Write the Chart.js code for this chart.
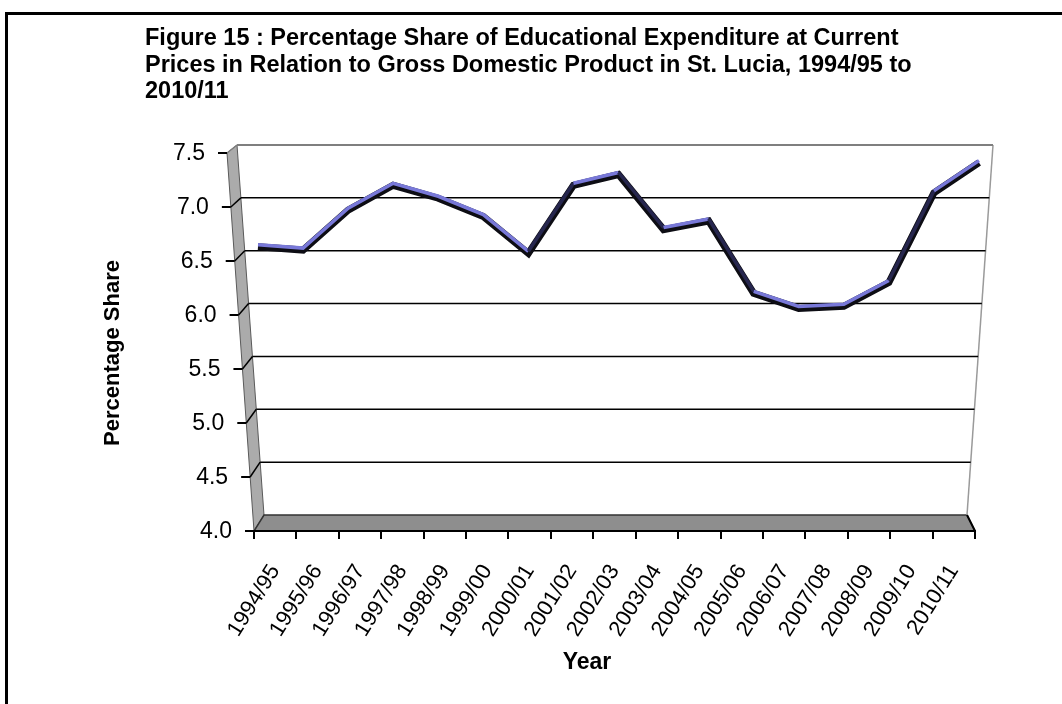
<!DOCTYPE html>
<html>
<head>
<meta charset="utf-8">
<title>Figure 15</title>
<script src="https://cdn.jsdelivr.net/npm/chart.js@4.4.1/dist/chart.umd.min.js"></script>
<style>
    html, body { margin: 0; padding: 0; background: #ffffff; }
    #wrap { position: relative; width: 1062px; height: 704px; }
</style>
</head>
<body>
<div id="wrap"><canvas id="chart" width="1062" height="704"></canvas></div>
<script>
// values
const years = ['1994/95', '1995/96', '1996/97', '1997/98', '1998/99', '1999/00', '2000/01', '2001/02',
    '2002/03', '2003/04', '2004/05', '2005/06', '2006/07', '2007/08', '2008/09', '2009/10', '2010/11'];
const shareOfGdp = [6.58, 6.55, 6.92, 7.15, 7.03, 6.86, 6.52, 7.15, 7.25, 6.74, 6.82, 6.15, 6.01, 6.03, 6.25, 7.08, 7.36];
const yTicks = [4.0, 4.5, 5.0, 5.5, 6.0, 6.5, 7.0, 7.5];
const titleLines = [
    'Figure 15 : Percentage Share of Educational Expenditure at Current',
    'Prices in Relation to Gross Domestic Product in St. Lucia, 1994/95 to',
    '2010/11'
];
const yTitle = 'Percentage Share';
const xTitle = 'Year';

const FONT = '"Liberation Sans", Arial, sans-serif';
Chart.defaults.font.family = FONT;
Chart.defaults.color = '#000000';

/**
 * Draws the Excel-like 3D box: left wall, floor, back wall grid, front y axis and the titles
 */
const box3d = {
    id: 'box3d',
    beforeDraw(chart) {
        const { ctx, chartArea: a } = chart;
        const y = chart.scales.y;
        const h = a.bottom - a.top;
        const t = py => (py - a.top) / h;
        const frontX = py => a.left - 27 + 27 * t(py);
        const backY = py => a.top - 8 + 370 * t(py);
        const backLeft = py => a.left - 17 + 27 * t(py);
        const backRight = py => a.right + 18 - 26 * t(py);

        ctx.save();
        ctx.fillStyle = '#ffffff';
        ctx.fillRect(0, 0, chart.width, chart.height);

        // outer frame
        ctx.strokeStyle = '#000000';
        ctx.lineWidth = 3;
        ctx.strokeRect(6.5, 13.5, chart.width + 20, chart.height + 20);

        // title
        ctx.fillStyle = '#000000';
        ctx.font = 'bold 23.5px ' + FONT;
        ctx.textAlign = 'left';
        ctx.textBaseline = 'middle';
        titleLines.forEach((line, i) => ctx.fillText(line, 145, 39 + i * 26.5));

        // left wall
        ctx.beginPath();
        ctx.moveTo(frontX(a.top), a.top);
        ctx.lineTo(backLeft(a.top), backY(a.top));
        ctx.lineTo(backLeft(a.bottom), backY(a.bottom));
        ctx.lineTo(frontX(a.bottom), a.bottom);
        ctx.closePath();
        ctx.fillStyle = '#ababab';
        ctx.fill();
        ctx.strokeStyle = '#5a5a5a';
        ctx.lineWidth = 1;
        ctx.stroke();

        // floor
        ctx.beginPath();
        ctx.moveTo(a.left, a.bottom);
        ctx.lineTo(a.right, a.bottom);
        ctx.lineTo(backRight(a.bottom), backY(a.bottom));
        ctx.lineTo(backLeft(a.bottom), backY(a.bottom));
        ctx.closePath();
        ctx.fillStyle = '#8e8e8e';
        ctx.fill();
        ctx.strokeStyle = '#333333';
        ctx.lineWidth = 1.5;
        ctx.stroke();
        ctx.beginPath();
        ctx.moveTo(a.right, a.bottom);
        ctx.lineTo(backRight(a.bottom), backY(a.bottom));
        ctx.strokeStyle = '#000000';
        ctx.lineWidth = 2;
        ctx.stroke();

        // right edge of the back wall
        ctx.beginPath();
        ctx.moveTo(backRight(a.top), backY(a.top));
        ctx.lineTo(backRight(a.bottom), backY(a.bottom));
        ctx.strokeStyle = '#9a9a9a';
        ctx.lineWidth = 1.5;
        ctx.stroke();

        // grid lines, connectors, ticks and labels
        ctx.font = '23px ' + FONT;
        ctx.textAlign = 'right';
        yTicks.forEach(v => {
            const fy = y.getPixelForValue(v);
            const by = backY(fy);
            const isTop = v === yTicks[yTicks.length - 1];
            if (v !== yTicks[0]) {
                ctx.beginPath();
                ctx.moveTo(backLeft(fy), by);
                ctx.lineTo(backRight(fy), by);
                ctx.strokeStyle = isTop ? '#7f7f7f' : '#000000';
                ctx.lineWidth = isTop ? 2 : 1.5;
                ctx.stroke();

                ctx.beginPath();
                ctx.moveTo(frontX(fy), fy);
                ctx.lineTo(backLeft(fy), by);
                ctx.strokeStyle = isTop ? '#7f7f7f' : '#000000';
                ctx.lineWidth = 1.5;
                ctx.stroke();
            }
            ctx.beginPath();
            ctx.moveTo(frontX(fy) - 9, fy);
            ctx.lineTo(frontX(fy), fy);
            ctx.strokeStyle = '#000000';
            ctx.lineWidth = 2;
            ctx.stroke();
            ctx.fillStyle = '#000000';
            ctx.fillText(v.toFixed(1), frontX(fy) - 22, fy + 1);
        });

        // axis titles
        ctx.font = 'bold 23px ' + FONT;
        ctx.textAlign = 'center';
        ctx.fillText(xTitle, 587, 663);
        ctx.font = 'bold 22px ' + FONT;
        ctx.translate(113, 353);
        ctx.rotate(-Math.PI / 2);
        ctx.fillText(yTitle, 0, 0);
        ctx.restore();
    },
    // the ribbon sits half way into the box depth
    beforeDatasetDraw(chart, args) {
        chart.ctx.save();
        chart.ctx.translate(4, args.index === 0 ? -7.5 : -5.5);
    },
    afterDatasetDraw(chart) {
        chart.ctx.restore();
    }
};

const steep = c => Math.abs(c.p1.y - c.p0.y) / Math.max(1, c.p1.x - c.p0.x) > 0.9;

new Chart(document.getElementById('chart'), {
    type: 'line',
    data: {
        labels: years,
        datasets: [
            {
                // top face of the ribbon
                data: shareOfGdp,
                xAxisID: 'x2',
                borderColor: '#7878d8',
                borderWidth: 3.5,
                pointRadius: 0,
                tension: 0,
                order: 1,
                segment: {
                    borderColor: c => steep(c) ? '#26264e' : '#7878d8'
                }
            },
            {
                // dark body of the ribbon
                data: shareOfGdp,
                xAxisID: 'x2',
                borderColor: '#0d0d14',
                borderWidth: 7,
                borderJoinStyle: 'miter',
                pointRadius: 0,
                tension: 0,
                order: 2
            }
        ]
    },
    options: {
        responsive: false,
        devicePixelRatio: 1,
        animation: false,
        layout: {
            padding: { left: 254, right: 87, top: 153, bottom: 0 }
        },
        scales: {
            x: {
                type: 'category',
                offset: true,
                afterFit: scale => { scale.height = 173; },
                grid: {
                    display: true,
                    drawOnChartArea: false,
                    drawTicks: true,
                    tickLength: 8,
                    color: '#000000',
                    lineWidth: 2,
                    offset: true
                },
                border: { display: true, color: '#000000', width: 2 },
                ticks: {
                    autoSkip: false,
                    minRotation: 58,
                    maxRotation: 58,
                    padding: 21,
                    color: '#000000',
                    font: { size: 22 }
                }
            },
            x2: {
                type: 'category',
                offset: false,
                display: false
            },
            y: {
                display: false,
                min: 4,
                max: 7.5
            }
        },
        plugins: {
            legend: { display: false },
            tooltip: { enabled: false },
            title: { display: false }
        }
    },
    plugins: [box3d]
});
</script>
</body>
</html>
